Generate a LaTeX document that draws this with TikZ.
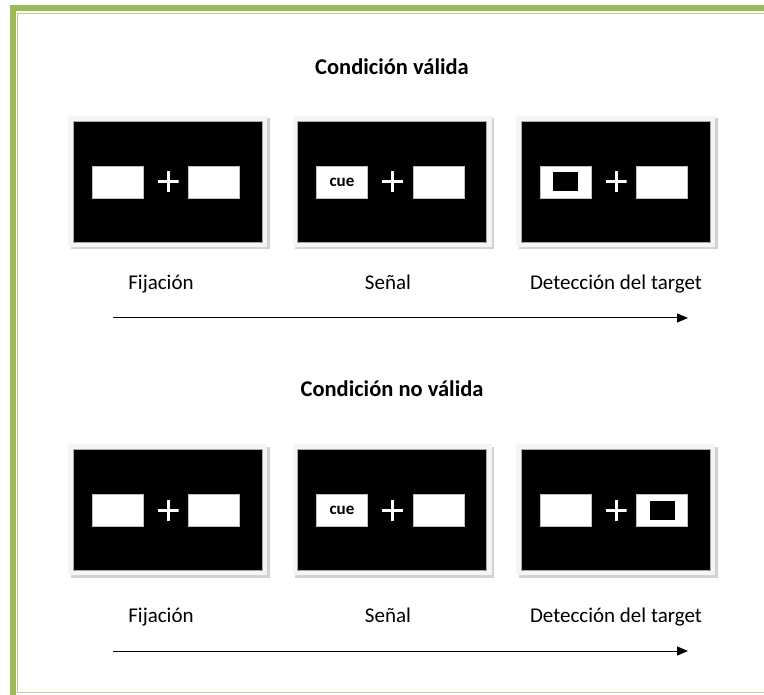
\documentclass[tikz,border=0pt]{standalone}
\usepackage{fontspec}
\setmainfont{Carlito}
\usetikzlibrary{calc,arrows.meta,shadows}
\tikzset {>=Triangle}
\definecolor{framegreen}{HTML}{9BBB59}
\tikzset{
  screen/.style={fill=gray!8, minimum width=199pt, minimum height=131pt, inner sep=0pt,
    drop shadow={shadow xshift=2.5pt,shadow yshift=-2.5pt,fill=gray!35,opacity=1},
    path picture={\fill[black,draw=gray!70] ([shift={(5pt,5pt)}]path picture bounding box.south west)
      rectangle ([shift={(-5pt,-5pt)}]path picture bounding box.north east);}},
  bar/.style={fill=white, draw=gray!50, line width=0.4pt, minimum width=51pt, minimum height=32pt, inner sep=0pt},
  target/.style={fill=black, minimum width=25pt, minimum height=19pt, inner sep=0pt},
  cross/.style={minimum size=21pt, inner sep=0pt,
    path picture={\draw[white,line width=3pt] (path picture bounding box.west) -- (path picture bounding box.east)
      (path picture bounding box.north) -- (path picture bounding box.south);}},
  caption/.style={font=\fontsize{21}{25}\selectfont, anchor=base},
  heading/.style={font=\fontsize{22.5}{27}\selectfont\bfseries, anchor=base},
  cuetext/.style={font=\fontsize{17}{19}\selectfont\bfseries},
  timeline/.style={line width=1pt,-{Triangle[length=11pt,width=9pt]}}
}

\begin{document}
\begin{tikzpicture}[x=1pt,y=-1pt]
\useasboundingbox (0,0) rectangle (764,695);
% page frame
\draw[framegreen,line width=6pt] (13,8) rectangle (800,730);
\draw[framegreen!70,line width=1.3pt] (17.8,13.8) rectangle (790,692.6);

% valid condition
\node[heading] (t1) at (392,75) {Condición válida};
\node[screen] (f1) at (167.5,181.5) {};
\node[bar] (f1l) at ($(f1)+(-50,0.5)$) {};
\node[cross] (f1c) at ($(f1)+(0.5,0.5)$) {};
\node[bar] (f1r) at ($(f1)+(46.5,0.5)$) {};
\node[screen] (s1) at (392,181.5) {};
\node[bar,cuetext] (s1l) at ($(s1)+(-50,0.5)$) {cue};
\node[cross] (s1c) at ($(s1)+(0.5,0.5)$) {};
\node[bar] (s1r) at ($(s1)+(46.5,0.5)$) {};
\node[screen] (d1) at (615.5,181.5) {};
\node[bar] (d1l) at ($(d1)+(-50,0.5)$) {};
\node[target] (d1t) at (d1l) {};
\node[cross] (d1c) at ($(d1)+(0.5,0.5)$) {};
\node[bar] (d1r) at ($(d1)+(46.5,0.5)$) {};
\node[caption] (c1f) at (161,290) {Fijación};
\node[caption] (c1s) at (388,290) {Señal};
\node[caption] (c1d) at (616,290) {Detección del target};
\coordinate (a1s) at (113,318);
\coordinate (a1e) at (688,318);
\draw[timeline] (a1s) -- (a1e);

% invalid condition
\node[heading] (t2) at (392,397) {Condición no válida};
\node[screen] (f2) at (167.5,509.5) {};
\node[bar] (f2l) at ($(f2)+(-50,0.5)$) {};
\node[cross] (f2c) at ($(f2)+(0.5,0.5)$) {};
\node[bar] (f2r) at ($(f2)+(46.5,0.5)$) {};
\node[screen] (s2) at (392,509.5) {};
\node[bar,cuetext] (s2l) at ($(s2)+(-50,0.5)$) {cue};
\node[cross] (s2c) at ($(s2)+(0.5,0.5)$) {};
\node[bar] (s2r) at ($(s2)+(46.5,0.5)$) {};
\node[screen] (d2) at (615.5,509.5) {};
\node[bar] (d2l) at ($(d2)+(-50,0.5)$) {};
\node[cross] (d2c) at ($(d2)+(0.5,0.5)$) {};
\node[bar] (d2r) at ($(d2)+(46.5,0.5)$) {};
\node[target] (d2t) at (d2r) {};
\node[caption] (c2f) at (161,622) {Fijación};
\node[caption] (c2s) at (388,622) {Señal};
\node[caption] (c2d) at (616,622) {Detección del target};
\coordinate (a2s) at (113,651);
\coordinate (a2e) at (688,651);
\draw[timeline] (a2s) -- (a2e);
\end{tikzpicture}
\end{document}
